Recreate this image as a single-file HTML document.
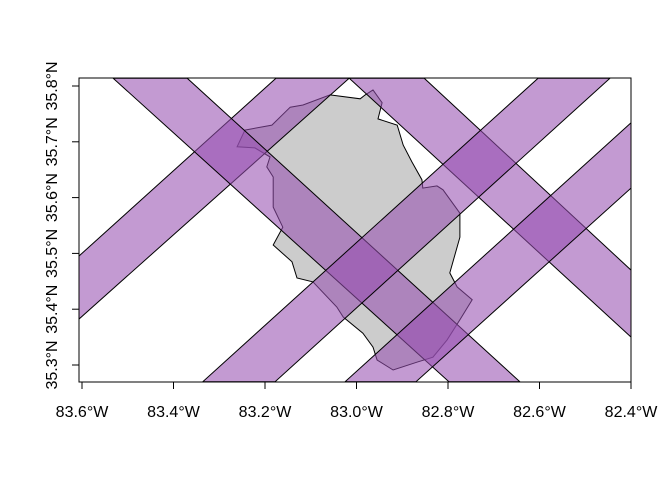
<!DOCTYPE html>
<html><head><meta charset="utf-8"><style>
html,body{margin:0;padding:0;background:#fff;}
svg{display:block;font-family:"Liberation Sans",Arial,sans-serif;}
</style></head><body>
<svg id="chart" width="672" height="480" viewBox="0 0 672 480" xmlns="http://www.w3.org/2000/svg"></svg>
<script>
const xTicks = [-83.6, -83.4, -83.2, -83.0, -82.8, -82.6, -82.4];
const xTickLabels = ["83.6°W","83.4°W","83.2°W","83.0°W","82.8°W","82.6°W","82.4°W"];
const yTicks = [35.3, 35.4, 35.5, 35.6, 35.7, 35.8];
const yTickLabels = ["35.3°N","35.4°N","35.5°N","35.6°N","35.7°N","35.8°N"];
const countyLon = [-83.058,-82.992,-82.981,-82.964,-82.944,-82.953,-82.911,-82.898,-82.879,-82.857,-82.855,-82.824,-82.811,-82.774,-82.774,-82.796,-82.780,-82.747,-82.774,-82.802,-82.833,-82.868,-82.920,-82.955,-82.964,-82.986,-83.029,-83.043,-83.095,-83.130,-83.141,-83.182,-83.161,-83.182,-83.182,-83.196,-83.189,-83.222,-83.261,-83.244,-83.185,-83.145,-83.117];
const countyLat = [35.784,35.777,35.784,35.793,35.770,35.741,35.730,35.694,35.664,35.632,35.617,35.621,35.614,35.572,35.529,35.465,35.440,35.417,35.381,35.345,35.314,35.305,35.291,35.309,35.332,35.357,35.386,35.404,35.449,35.456,35.485,35.515,35.547,35.583,35.637,35.655,35.673,35.689,35.691,35.721,35.730,35.762,35.766];
const stripNames = ["swath-a","swath-b","swath-c","swath-d","swath-e"];
const stripLon = [
  [-83.607,-83.176,-83.016,-83.607],
  [-83.532,-83.370,-82.643,-82.798],
  [-83.016,-82.852,-82.400,-82.400],
  [-83.336,-82.603,-82.446,-83.178],
  [-83.025,-82.400,-82.400,-82.870]
];
const stripLat = [
  [35.495,35.814,35.814,35.382],
  [35.814,35.814,35.270,35.270],
  [35.814,35.814,35.470,35.350],
  [35.270,35.814,35.814,35.270],
  [35.270,35.734,35.617,35.270]
];
const NS="http://www.w3.org/2000/svg";
const svg=document.getElementById('chart');
const L=79,R=631,T=78,B=382;
function X(lon){return 82+(lon+83.6)*457.5;}
function Y(lat){return 86+(35.8-lat)*558;}
function mk(t,a){const e=document.createElementNS(NS,t);for(const k in a)e.setAttribute(k,a[k]);svg.appendChild(e);return e;}
const defs=document.createElementNS(NS,'defs');
defs.innerHTML='<clipPath id="pc"><rect x="79" y="78" width="552" height="304"/></clipPath>';
svg.appendChild(defs);
const g=document.createElementNS(NS,'g');g.setAttribute('clip-path','url(#pc)');svg.appendChild(g);
let pts=countyLon.map((v,i)=>X(v).toFixed(1)+','+Y(countyLat[i]).toFixed(1)).join(' ');
const cty=document.createElementNS(NS,'polygon');
cty.setAttribute('points',pts);cty.setAttribute('fill','#cccccc');cty.setAttribute('stroke','#000');cty.setAttribute('stroke-width','1');


g.appendChild(cty);
stripLon.forEach((lons,i)=>{
  const p=document.createElementNS(NS,'polygon');
  p.setAttribute('points',lons.map((v,j)=>X(v).toFixed(1)+','+Y(stripLat[i][j]).toFixed(1)).join(' '));
  p.setAttribute('fill','rgba(150,78,176,0.57)');p.setAttribute('stroke','#000');p.setAttribute('stroke-width','1');
  
  
  g.appendChild(p);
});
const fr=mk('rect',{x:L,y:T,width:R-L,height:B-T,fill:'none',stroke:'#000','stroke-width':1});


const xa=mk('line',{x1:X(xTicks[0]),x2:X(xTicks[xTicks.length-1]),y1:B,y2:B,stroke:'#000'});


xTicks.forEach((v,i)=>{
  const t=mk('line',{x1:X(v),x2:X(v),y1:B,y2:B+7,stroke:'#000'});
  
  
  const tx=mk('text',{x:X(v),y:417,'text-anchor':'middle','font-size':16});
  tx.textContent=xTickLabels[i];
  
  
});
const ya=mk('line',{x1:L,x2:L,y1:Y(yTicks[0]),y2:Y(yTicks[yTicks.length-1]),stroke:'#000'});


yTicks.forEach((v,i)=>{
  const t=mk('line',{x1:L-7,x2:L,y1:Y(v),y2:Y(v),stroke:'#000'});
  
  
  const tx=mk('text',{x:0,y:0,'text-anchor':'middle','font-size':16,transform:'translate(57,'+Y(v)+') rotate(-90)'});
  tx.textContent=yTickLabels[i];
  
  
});
</script>
</body></html>
